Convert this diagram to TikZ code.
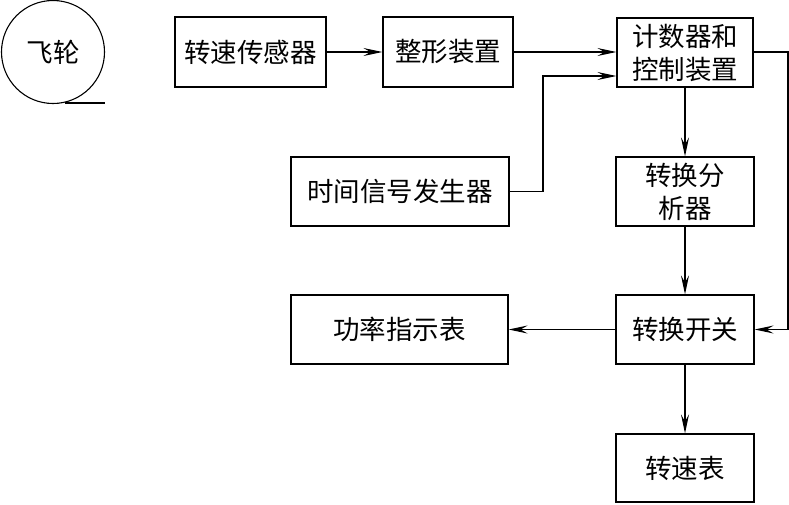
\documentclass[tikz,border=0pt]{standalone}
\usepackage{fontspec}
\newfontfamily\cjk{Noto Sans CJK SC}
\usetikzlibrary{arrows.meta}
\begin{document}
\begin{tikzpicture}[x=1pt,y=-1pt,
  blk/.style={draw, line width=1.2pt, inner sep=0pt, font=\cjk\fontsize{26.5}{33}\selectfont, align=center},
  conn/.style={line width=1.1pt, -{Stealth[length=19pt,width=8pt,inset=7pt]}},
  plain/.style={line width=1.1pt}]
\useasboundingbox (0,0) rectangle (789,504);
\node[draw, circle, line width=1.1pt, minimum size=103pt, inner sep=0pt, font=\cjk\fontsize{26.5}{30}\selectfont] (fw) at (53,52) {飞轮};
\coordinate (fl) at (65,103);
\draw[plain] (fl) -- (105,103);
\node[blk, minimum width=151pt, minimum height=70pt] (sensor) at (250.5,52) {转速传感器};
\node[blk, minimum width=130pt, minimum height=70pt] (shape) at (448,52) {整形装置};
\node[blk, minimum width=136pt, minimum height=69pt] (count) at (685,52.5) {计数器和\\控制装置};
\node[blk, minimum width=218pt, minimum height=69pt] (timer) at (400,191.5) {时间信号发生器};
\node[blk, minimum width=138pt, minimum height=69pt] (conv) at (685,191.5) {转换分\\析器};
\node[blk, minimum width=217pt, minimum height=69pt] (power) at (399.5,329.5) {功率指示表};
\node[blk, minimum width=138pt, minimum height=69pt] (switch) at (685,329.5) {转换开关};
\node[blk, minimum width=138pt, minimum height=68pt] (tacho) at (685,468) {转速表};
\draw[conn] (sensor.east) -- (shape.west);
\draw[conn] (shape.east) -- (count.west |- shape.east);
\draw[conn] (timer.east) -| (543,76) -- (count.west |- 0,76);
\draw[conn] (count.south) -- (conv.north);
\draw[conn] (conv.south) -- (switch.north);
\draw[plain] (count.east |- shape.east) -| (788,329.5);
\draw[conn] (788,329.5) -- (switch.east);
\draw[conn] (switch.west) -- (power.east);
\draw[conn] (switch.south) -- (tacho.north);
\end{tikzpicture}
\end{document}
